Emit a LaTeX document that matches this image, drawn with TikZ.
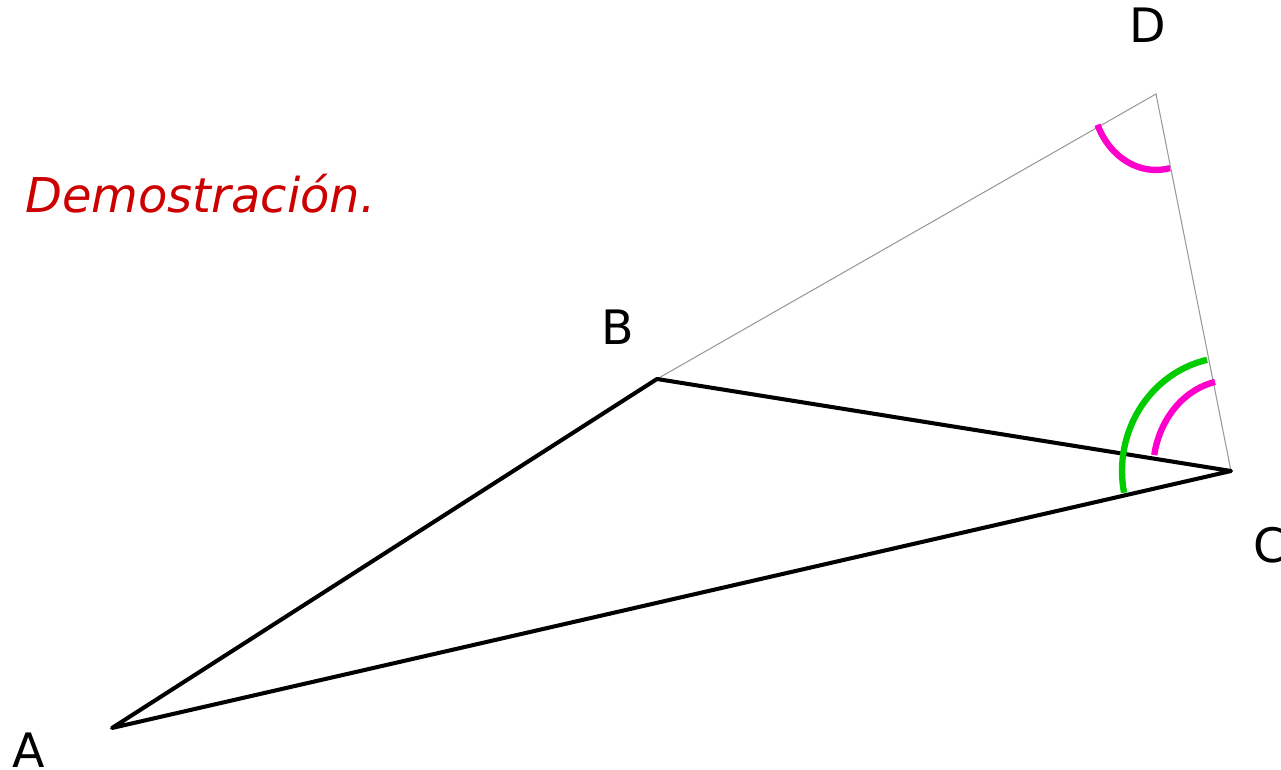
\documentclass[tikz,border=0pt]{standalone}
\usepackage{fontspec}
\setmainfont{DejaVu Sans}
\usepackage{xcolor}
\usepackage{tikz}
\usetikzlibrary{calc}
\definecolor{ProofRed}{HTML}{CC0000}
\definecolor{AngleGreen}{HTML}{00CC00}
\definecolor{AngleMagenta}{HTML}{FF00CC}
\definecolor{AuxGray}{HTML}{999999}

\begin{document}
\begin{tikzpicture}[
  x=0.02cm, y=0.02cm,
  side/.style={line width=2.3pt, line join=round},
  aux/.style={draw=AuxGray, line width=0.6pt},
  greenarc/.style={draw=AngleGreen, line width=3.6pt},
  magarc/.style={draw=AngleMagenta, line width=3.6pt},
  vlabel/.style={font=\fontsize{27}{32}\selectfont, anchor=base, inner sep=0pt}
]
  \clip (0,0) rectangle (1281,770);
  \coordinate (A) at (112,42);
  \coordinate (B) at (657,391);
  \coordinate (C) at (1231,299);
  \coordinate (D) at (1156,676);

  % auxiliary sides
  \draw[aux] (B) -- (D) -- (C);
  \draw[side] (A) -- (B) -- (C) -- cycle;

  % angle marks
  \draw[greenarc] ([shift={(191:2.18cm and 2.28cm)}]C)
    arc[start angle=191, end angle=102.7, x radius=2.18cm, y radius=2.28cm];
  \draw[magarc] ([shift={(169.9:1.56cm and 1.82cm)}]C)
    arc[start angle=169.9, end angle=101.8, x radius=1.56cm, y radius=1.82cm];
  \draw[magarc] ([shift={(203.9:1.28cm and 1.52cm)}]D)
    arc[start angle=203.9, end angle=282.7, x radius=1.28cm, y radius=1.52cm];

  \node[vlabel] (labA) at (29,2) {A};
  \node[vlabel] (labB) at (618,425) {B};
  \node[vlabel] (labC) at (1270,207) {C};
  \node[vlabel] (labD) at (1148,727) {D};
  \node[vlabel, anchor=base west, text=ProofRed, font=\fontsize{27.3}{32}\selectfont\itshape]
    (proof) at (25,557) {Demostración.};
\end{tikzpicture}
\end{document}
